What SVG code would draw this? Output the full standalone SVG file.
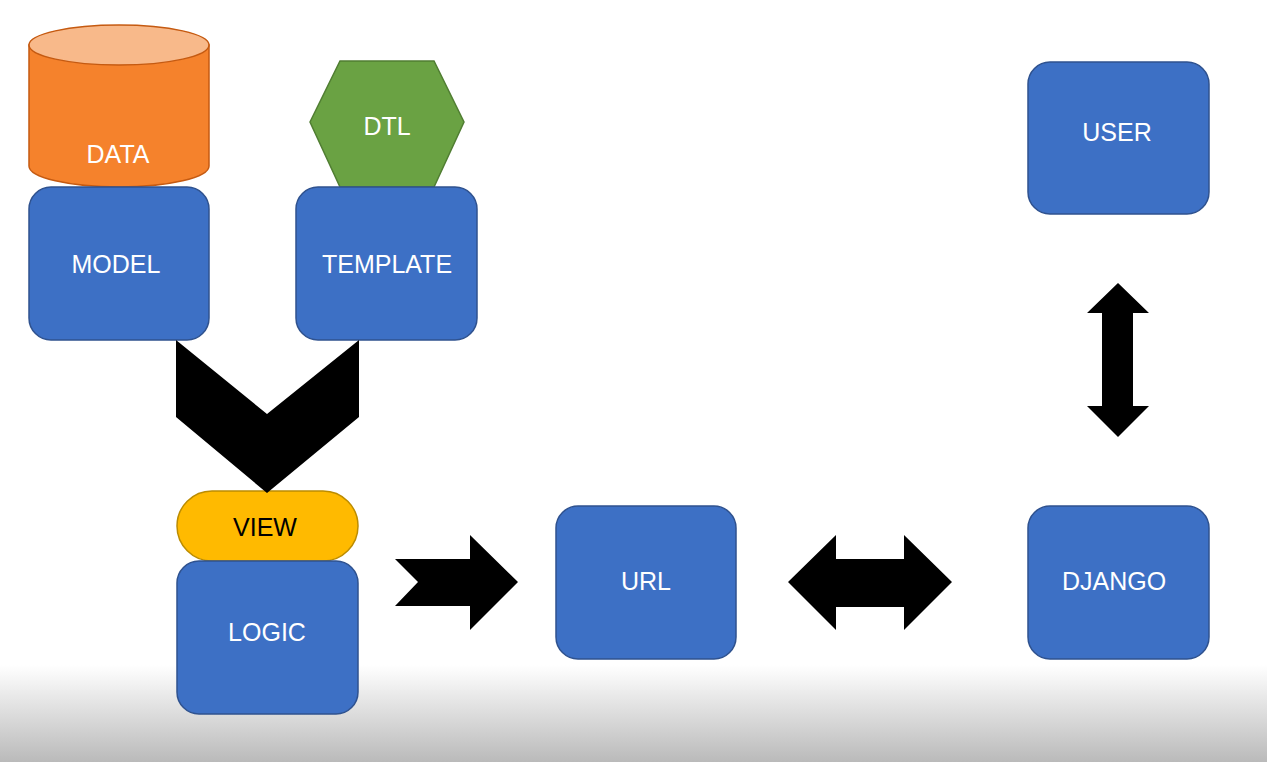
<svg xmlns="http://www.w3.org/2000/svg" width="1267" height="762" viewBox="0 0 1267 762">
<defs>
<linearGradient id="bg" x1="0" y1="0" x2="0" y2="1">
<stop offset="0" stop-color="#ffffff"/>
<stop offset="1" stop-color="#bababa"/>
</linearGradient>
<style>
.box{fill:#3d70c5;stroke:#2f528f;stroke-width:1.5}
.lbl{font-family:"Liberation Sans",Arial,sans-serif;font-size:25px;fill:#ffffff;text-anchor:middle;dominant-baseline:central}
.arrow{fill:#000000}
</style>
</defs>
<rect x="0" y="0" width="1267" height="762" fill="#ffffff"/>
<rect x="0" y="665" width="1267" height="97" fill="url(#bg)"/>

<g id="data">
<path d="M29,45 L29,166 A90,21 0 0 0 209,166 L209,45 Z" fill="#f5822c" stroke="#c55a11" stroke-width="1.5"/>
<ellipse cx="119" cy="45" rx="90" ry="20" fill="#f8b98a" stroke="#c55a11" stroke-width="1.5"/>
<text class="lbl" x="118" y="154">DATA</text>
</g>

<g id="dtl">
<polygon points="310,122 340,61 434,61 464,122 434,187 340,187" fill="#6aa243" stroke="#507e32" stroke-width="1.5"/>
<text class="lbl" x="387" y="126">DTL</text>
</g>

<g id="model">
<rect class="box" x="29" y="187" width="180" height="153" rx="22"/>
<text class="lbl" x="116" y="264">MODEL</text>
</g>

<g id="template">
<rect class="box" x="296" y="187" width="181" height="153" rx="22"/>
<text class="lbl" x="387" y="264">TEMPLATE</text>
</g>

<g id="user">
<rect class="box" x="1028" y="62" width="181" height="152" rx="22"/>
<text class="lbl" x="1117" y="132">USER</text>
</g>

<g id="view">
<rect x="177" y="491" width="181" height="70" rx="35" fill="#ffba00" stroke="#bc8c00" stroke-width="1.5"/>
<text class="lbl" x="265" y="527" style="fill:#000000">VIEW</text>
</g>

<g id="logic">
<rect class="box" x="177" y="561" width="181" height="153" rx="22"/>
<text class="lbl" x="267" y="632">LOGIC</text>
</g>

<g id="url">
<rect class="box" x="556" y="506" width="180" height="153" rx="22"/>
<text class="lbl" x="646" y="581">URL</text>
</g>

<g id="django">
<rect class="box" x="1028" y="506" width="181" height="153" rx="22"/>
<text class="lbl" x="1114" y="581">DJANGO</text>
</g>

<g id="connectors">
<polygon class="arrow" points="176,340 267,414 359,340 359,417 267,493 176,417"/>
<polygon class="arrow" points="395,559 470,559 470,535 518,582 470,630 470,606 395,606 418,582"/>
<polygon class="arrow" points="788,582 836,535 836,559 904,559 904,535 952,582 904,630 904,607 836,607 836,630"/>
<polygon class="arrow" points="1118,283 1149,313 1133,313 1133,406 1149,406 1118,437 1087,406 1102,406 1102,313 1087,313"/>
</g>
</svg>
